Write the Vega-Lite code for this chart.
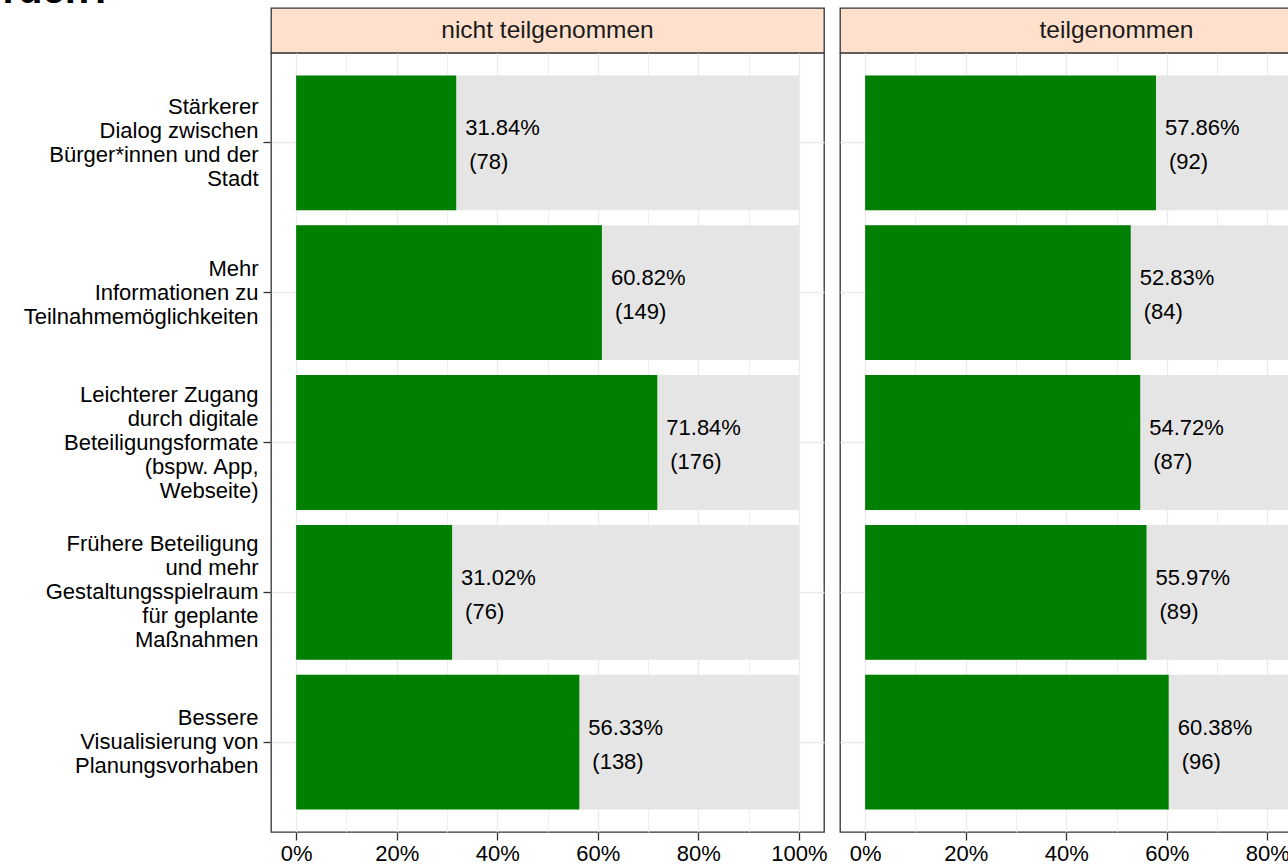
{
  "$schema": "https://vega.github.io/schema/vega-lite/v6.json",
  "autosize": {"type": "none"},
  "padding": {"left": 271, "top": 8, "right": 1017, "bottom": 858},
  "title": {"text": "rden?", "fontSize": 40, "fontWeight": "bold", "anchor": "start", "frame": "bounds", "color": "#000000", "font": "Liberation Sans", "baseline": "alphabetic", "offset": -36, "dx": -20},
  "config": {"font": "Liberation Sans", "view": {"stroke": null}},
  "datasets": {
    "bars": [
      {"panel": "nicht teilgenommen", "item": "Stärkerer\nDialog zwischen\nBürger*innen und der\nStadt", "pct": 0.3184, "n": 78},
      {"panel": "nicht teilgenommen", "item": "Mehr\nInformationen zu\nTeilnahmemöglichkeiten", "pct": 0.6082, "n": 149},
      {"panel": "nicht teilgenommen", "item": "Leichterer Zugang\ndurch digitale\nBeteiligungsformate\n(bspw. App,\nWebseite)", "pct": 0.7184, "n": 176},
      {"panel": "nicht teilgenommen", "item": "Frühere Beteiligung\nund mehr\nGestaltungsspielraum\nfür geplante\nMaßnahmen", "pct": 0.3102, "n": 76},
      {"panel": "nicht teilgenommen", "item": "Bessere\nVisualisierung von\nPlanungsvorhaben", "pct": 0.5633, "n": 138},
      {"panel": "teilgenommen", "item": "Stärkerer\nDialog zwischen\nBürger*innen und der\nStadt", "pct": 0.5786, "n": 92},
      {"panel": "teilgenommen", "item": "Mehr\nInformationen zu\nTeilnahmemöglichkeiten", "pct": 0.5283, "n": 84},
      {"panel": "teilgenommen", "item": "Leichterer Zugang\ndurch digitale\nBeteiligungsformate\n(bspw. App,\nWebseite)", "pct": 0.5472, "n": 87},
      {"panel": "teilgenommen", "item": "Frühere Beteiligung\nund mehr\nGestaltungsspielraum\nfür geplante\nMaßnahmen", "pct": 0.5597, "n": 89},
      {"panel": "teilgenommen", "item": "Bessere\nVisualisierung von\nPlanungsvorhaben", "pct": 0.6038, "n": 96}
    ],
    "strips": [
      {"panel": "nicht teilgenommen"},
      {"panel": "teilgenommen"}
    ]
  },
  "spacing": 11,
  "hconcat": [
    {
      "bounds": "flush",
      "spacing": 0,
      "vconcat": [
        {
          "width": 553, "height": 45,
          "data": {"name": "strips"},
          "transform": [{"filter": "datum.panel === 'nicht teilgenommen'"}],
          "view": {"fill": "#FEE0CC", "stroke": "#333333", "strokeWidth": 1.3},
          "mark": {"type": "text", "fontSize": 24.5, "color": "#1a1a1a", "baseline": "middle", "align": "center"},
          "encoding": {"text": {"field": "panel"}}
        },
        {
          "width": 553, "height": 779,
          "data": {"name": "bars"},
          "transform": [
            {"filter": "datum.panel === 'nicht teilgenommen'"},
            {"calculate": "'(' + datum.n + ')'", "as": "nlabel"}
          ],
          "view": {"fill": "#ffffff", "stroke": "#333333", "strokeWidth": 1.3},
          "encoding": {
            "y": {
              "field": "item", "type": "nominal",
              "sort": ["Stärkerer\nDialog zwischen\nBürger*innen und der\nStadt", "Mehr\nInformationen zu\nTeilnahmemöglichkeiten", "Leichterer Zugang\ndurch digitale\nBeteiligungsformate\n(bspw. App,\nWebseite)", "Frühere Beteiligung\nund mehr\nGestaltungsspielraum\nfür geplante\nMaßnahmen", "Bessere\nVisualisierung von\nPlanungsvorhaben"],
              "scale": {"paddingInner": 0.1, "paddingOuter": 0.15},
              "axis": {
                "title": null, "domain": false,
                "labelExpr": "split(datum.label, '\\n')",
                "labelFontSize": 22, "labelLineHeight": 24, "labelColor": "#000000",
                "labelPadding": 5, "labelLimit": 400, "labelAlign": "right", "labelBaseline": "middle",
                "labelOffset": {"condition": [
                  {"test": "length(split(datum.value, '\\n')) == 5", "value": -48},
                  {"test": "length(split(datum.value, '\\n')) == 4", "value": -36}
                ], "value": -24},
                "tickSize": 8, "tickColor": "#333333", "tickWidth": 1.3,
                "grid": true, "gridColor": "#ebebeb", "gridWidth": 1.3
              }
            }
          },
          "layer": [
            {
              "mark": {"type": "bar", "color": "#e5e5e5"},
              "encoding": {
                "x": {
                  "datum": 0, "type": "quantitative",
                  "scale": {"domain": [-0.05, 1.05], "nice": false, "zero": false},
                  "axis": {
                    "title": null, "domain": false,
                    "values": [0, 0.1, 0.2, 0.3, 0.4, 0.5, 0.6, 0.7, 0.8, 0.9, 1],
                    "format": ".0%",
                    "labelExpr": "round(datum.value * 10) % 2 == 0 ? datum.label : ''",
                    "labelFontSize": 22, "labelColor": "#000000", "labelPadding": 3, "labelFlush": false, "labelOverlap": false,
                    "tickSize": 8, "tickColor": "#333333", "tickWidth": 1.3,
                    "tickOpacity": {"condition": {"test": "round(datum.value * 10) % 2 == 1", "value": 0}, "value": 1},
                    "grid": true, "gridColor": "#ebebeb",
                    "gridWidth": {"condition": {"test": "round(datum.value * 10) % 2 == 1", "value": 0.8}, "value": 1.3}
                  }
                },
                "x2": {"datum": 1}
              }
            },
            {
              "mark": {"type": "bar", "color": "#008000"},
              "encoding": {"x": {"field": "pct", "type": "quantitative"}, "x2": {"datum": 0}}
            },
            {
              "mark": {"type": "text", "fontSize": 22, "color": "#000000", "align": "left", "baseline": "alphabetic", "dx": 9, "dy": -7.5},
              "encoding": {"x": {"field": "pct", "type": "quantitative"}, "text": {"field": "pct", "format": ".2%"}}
            },
            {
              "mark": {"type": "text", "fontSize": 22, "color": "#000000", "align": "left", "baseline": "alphabetic", "dx": 13, "dy": 26.5},
              "encoding": {"x": {"field": "pct", "type": "quantitative"}, "text": {"field": "nlabel"}}
            }
          ]
        }
      ]
    },
    {
      "bounds": "flush",
      "spacing": 0,
      "vconcat": [
        {
          "width": 553, "height": 45,
          "data": {"name": "strips"},
          "transform": [{"filter": "datum.panel === 'teilgenommen'"}],
          "view": {"fill": "#FEE0CC", "stroke": "#333333", "strokeWidth": 1.3},
          "mark": {"type": "text", "fontSize": 24.5, "color": "#1a1a1a", "baseline": "middle", "align": "center"},
          "encoding": {"text": {"field": "panel"}}
        },
        {
          "width": 553, "height": 779,
          "data": {"name": "bars"},
          "transform": [
            {"filter": "datum.panel === 'teilgenommen'"},
            {"calculate": "'(' + datum.n + ')'", "as": "nlabel"}
          ],
          "view": {"fill": "#ffffff", "stroke": "#333333", "strokeWidth": 1.3},
          "encoding": {
            "y": {
              "field": "item", "type": "nominal",
              "sort": ["Stärkerer\nDialog zwischen\nBürger*innen und der\nStadt", "Mehr\nInformationen zu\nTeilnahmemöglichkeiten", "Leichterer Zugang\ndurch digitale\nBeteiligungsformate\n(bspw. App,\nWebseite)", "Frühere Beteiligung\nund mehr\nGestaltungsspielraum\nfür geplante\nMaßnahmen", "Bessere\nVisualisierung von\nPlanungsvorhaben"],
              "scale": {"paddingInner": 0.1, "paddingOuter": 0.15},
              "axis": {
                "title": null, "domain": false, "labels": false, "ticks": false,
                "grid": true, "gridColor": "#ebebeb", "gridWidth": 1.3
              }
            }
          },
          "layer": [
            {
              "mark": {"type": "bar", "color": "#e5e5e5"},
              "encoding": {
                "x": {
                  "datum": 0, "type": "quantitative",
                  "scale": {"domain": [-0.05, 1.05], "nice": false, "zero": false},
                  "axis": {
                    "title": null, "domain": false,
                    "values": [0, 0.1, 0.2, 0.3, 0.4, 0.5, 0.6, 0.7, 0.8, 0.9, 1],
                    "format": ".0%",
                    "labelExpr": "round(datum.value * 10) % 2 == 0 ? datum.label : ''",
                    "labelFontSize": 22, "labelColor": "#000000", "labelPadding": 3, "labelFlush": false, "labelOverlap": false,
                    "tickSize": 8, "tickColor": "#333333", "tickWidth": 1.3,
                    "tickOpacity": {"condition": {"test": "round(datum.value * 10) % 2 == 1", "value": 0}, "value": 1},
                    "grid": true, "gridColor": "#ebebeb",
                    "gridWidth": {"condition": {"test": "round(datum.value * 10) % 2 == 1", "value": 0.8}, "value": 1.3}
                  }
                },
                "x2": {"datum": 1}
              }
            },
            {
              "mark": {"type": "bar", "color": "#008000"},
              "encoding": {"x": {"field": "pct", "type": "quantitative"}, "x2": {"datum": 0}}
            },
            {
              "mark": {"type": "text", "fontSize": 22, "color": "#000000", "align": "left", "baseline": "alphabetic", "dx": 9, "dy": -7.5},
              "encoding": {"x": {"field": "pct", "type": "quantitative"}, "text": {"field": "pct", "format": ".2%"}}
            },
            {
              "mark": {"type": "text", "fontSize": 22, "color": "#000000", "align": "left", "baseline": "alphabetic", "dx": 13, "dy": 26.5},
              "encoding": {"x": {"field": "pct", "type": "quantitative"}, "text": {"field": "nlabel"}}
            }
          ]
        }
      ]
    }
  ]
}
